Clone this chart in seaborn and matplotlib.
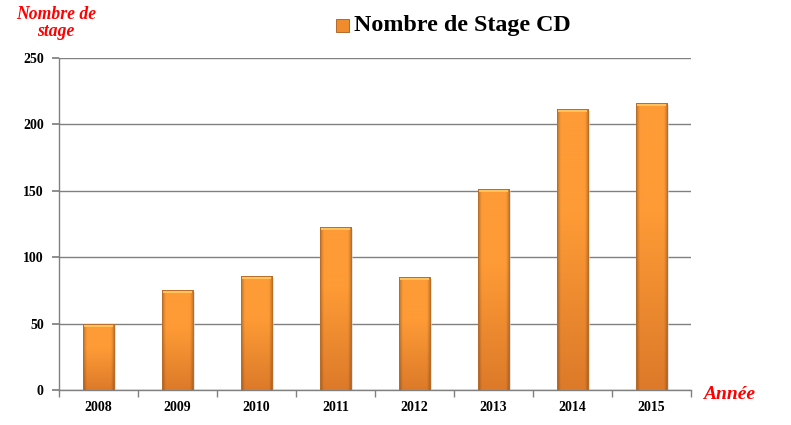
import matplotlib
matplotlib.use("Agg")
import matplotlib.pyplot as plt
import matplotlib.colors as mcolors
import seaborn as sns
import numpy as np
import pandas as pd

years = ["2008", "2009", "2010", "2011", "2012", "2013", "2014", "2015"]
stages = [50, 75, 86, 123, 85, 151, 212, 216]

sns.set_theme(style="white")
plt.rcParams["font.family"] = ["Liberation Serif", "DejaVu Serif"]

df = pd.DataFrame({"Annee": years, "Stages": stages})

fig = plt.figure(figsize=(7.91, 4.25), dpi=100)
ax = fig.add_axes([0.0746, 0.0824, 0.799, 0.781])

sns.barplot(data=df, x="Annee", y="Stages", color="#FB9633", width=0.4,
            linewidth=0, ax=ax, zorder=3)

# gradient fill on each bar: darker narrow sides, darker toward the bottom
top_rgb = np.array(mcolors.to_rgb("#FE9B36"))
bot_rgb = np.array(mcolors.to_rgb("#DC7A2A"))
side = np.interp(np.linspace(0, 1, 64), [0, 0.06, 0.12, 0.88, 0.94, 1],
                 [0.72, 0.88, 1.0, 1.0, 0.88, 0.72])
px = 250 / 332.0  # data units per pixel
for p in list(ax.patches):
    x0, y0 = p.get_x(), p.get_y()
    w, h = p.get_width(), p.get_height()
    t = np.linspace(0, 1, 128)[:, None]
    col = bot_rgb[None, :] + (top_rgb - bot_rgb)[None, :] * np.clip(t * 1.6, 0, 1)
    img = col[:, None, :] * side[None, :, None]
    img = np.clip(img, 0, 1)
    im = ax.imshow(img, extent=[x0, x0 + w, y0, y0 + h], origin="lower",
                   aspect="auto", zorder=3.5)
    im.set_clip_path(p)
    # top bevel highlight
    ax.add_patch(plt.Rectangle((x0 + w * 0.05, y0 + h - 3 * px), w * 0.9, 2.5 * px,
                               facecolor="#FFC25E", lw=0, zorder=3.8))
    # thin border
    ax.add_patch(plt.Rectangle((x0, y0), w, h, facecolor="none",
                               edgecolor="#B86E2A", lw=0.7, zorder=3.9))
    # soft shadow
    ax.add_patch(plt.Rectangle((x0 + w, y0), 0.025, h - 2 * px, color="#cfcfcf",
                               alpha=0.6, zorder=2.5, lw=0))

ax.set_xlim(-0.5, 7.5)
ax.set_ylim(0, 250)
ax.set_yticks([0, 50, 100, 150, 200, 250])
ax.grid(axis="y", color="#808080", linewidth=1, zorder=0)
ax.set_axisbelow(True)
for s in ["top", "right"]:
    ax.spines[s].set_visible(False)
for s in ["left", "bottom"]:
    ax.spines[s].set_color("#808080")
    ax.spines[s].set_linewidth(1)

ax.set_xticks(np.arange(-0.5, 8, 1), minor=True)
ax.tick_params(axis="x", which="major", length=0, pad=8)
ax.tick_params(axis="x", which="minor", length=5, color="#808080", direction="out", bottom=True)
ax.tick_params(axis="y", length=5, color="#808080", direction="out", left=True, pad=6)
for lbl in ax.get_xticklabels() + ax.get_yticklabels():
    lbl.set_fontweight("bold")
    lbl.set_fontsize(10)
    lbl.set_color("black")
ax.set_xlabel("")
ax.set_ylabel("")

fig.text(0.071, 0.965, "Nombre de", color="red", fontsize=12.7, fontweight="bold",
         style="italic", ha="center", va="center")
fig.text(0.071, 0.925, "stage", color="red", fontsize=12.7, fontweight="bold",
         style="italic", ha="center", va="center")
fig.text(0.889, 0.0706, "Année", color="red", fontsize=14, fontweight="bold",
         style="italic", ha="left", va="center")

# legend-like title
fig.patches.append(plt.Rectangle((0.4248, 0.9247), 0.0164, 0.0306, transform=fig.transFigure,
                                 facecolor="#F08C2E", edgecolor="#A85A1A", lw=0.6))
fig.text(0.4475, 0.94, "Nombre de Stage CD", fontsize=17.3, fontweight="bold",
         ha="left", va="center", color="black")

fig.savefig("out.png", dpi=100)
